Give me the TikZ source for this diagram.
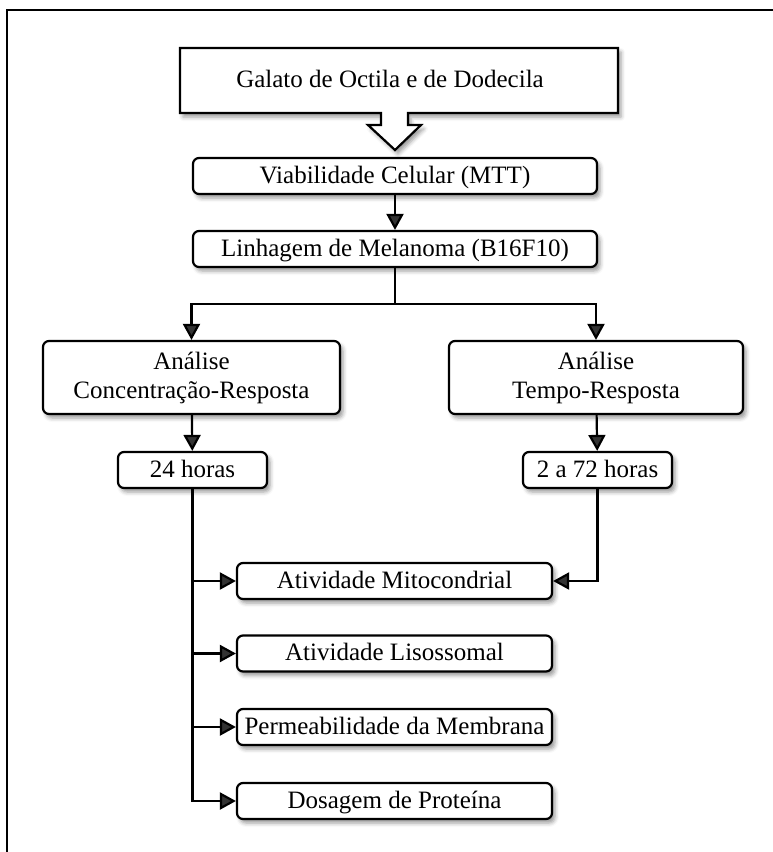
\documentclass[tikz,border=0pt]{standalone}
\usepackage{fontspec}
\setmainfont{Liberation Serif}
\usetikzlibrary{arrows.meta,shadows.blur,calc}
\begin{document}
\begin{tikzpicture}[x=1pt,y=-1pt,
  softshadow/.style={blur shadow={shadow xshift=3pt,shadow yshift=-4pt,shadow blur radius=4pt,shadow opacity=40}},
  box/.style={draw, line width=2.2pt, rounded corners=6pt, fill=white, inner sep=0pt,
    font=\fontsize{25}{29}\selectfont, align=center, softshadow},
  onebox/.style={box, text height=18pt, text depth=4pt},
  link/.style={line width=2.2pt, -{Triangle[length=16pt,width=17pt]}},
  bus/.style={line width=2.2pt}]
\useasboundingbox (0,0) rectangle (773,852);
% outer frame (runs off the page on the right and at the bottom)
\draw[line width=2.2pt] (7,900) -- (7,10) -- (800,10);

% header block with its built-in down arrow
\draw[line width=2.2pt, fill=white, softshadow, line join=miter]
  (180,48) -- (618,48) -- (618,113) -- (408,113) -- (408,125) -- (421,125)
  -- (395,150) -- (368,125) -- (381,125) -- (381,113) -- (180,113) -- cycle;
\node[font=\fontsize{25}{29}\selectfont, text height=18pt, text depth=4pt] (galato) at (390,80.5) {Galato de Octila e de Dodecila};

% boxes
\node[onebox, minimum width=404pt, minimum height=36pt] (viab) at (395,176) {Viabilidade Celular (MTT)};
\node[onebox, minimum width=404pt, minimum height=36pt] (linh) at (395,249) {Linhagem de Melanoma (B16F10)};
\node[box, minimum width=297pt, minimum height=73pt] (ana1) at (191.5,377.5) {\raisebox{-3pt}{Análise}\\\raisebox{-3pt}{Concentração-Resposta}};
\node[box, minimum width=294pt, minimum height=73pt] (ana2) at (596,377.5) {\raisebox{-3pt}{Análise}\\\raisebox{-3pt}{Tempo-Resposta}};
\node[onebox, minimum width=149pt, minimum height=36pt] (h24) at (192.5,470) {24 horas};
\node[onebox, minimum width=149pt, minimum height=36pt] (h72) at (597.5,470) {2 a 72 horas};
\node[onebox, minimum width=315pt, minimum height=36pt] (mito) at (394.5,581) {Atividade Mitocondrial};
\node[onebox, minimum width=315pt, minimum height=36pt] (liso) at (394.5,653.5) {Atividade Lisossomal};
\node[onebox, minimum width=315pt, minimum height=36pt] (perm) at (394.5,727) {Permeabilidade da Membrana};
\node[onebox, minimum width=315pt, minimum height=36pt] (dosa) at (394.5,801) {Dosagem de Proteína};

% connectors
\draw[link] (viab) -- (linh);
\draw[bus] (linh.south) -- ++(0,36) coordinate (split);
\draw[link] (split) -| (ana1.north);
\draw[link] (split) -| (ana2.north);
\draw[link] (ana1) -- (h24);
\draw[link] (ana2) -- (h72);
\draw[link] (h24.south) |- (dosa.west);
\draw[link] (h24.south |- mito.west) -- (mito.west);
\draw[link] (h24.south |- liso.west) -- (liso.west);
\draw[link] (h24.south |- perm.west) -- (perm.west);
\draw[link] (h72.south) |- (mito.east);
\end{tikzpicture}
\end{document}
